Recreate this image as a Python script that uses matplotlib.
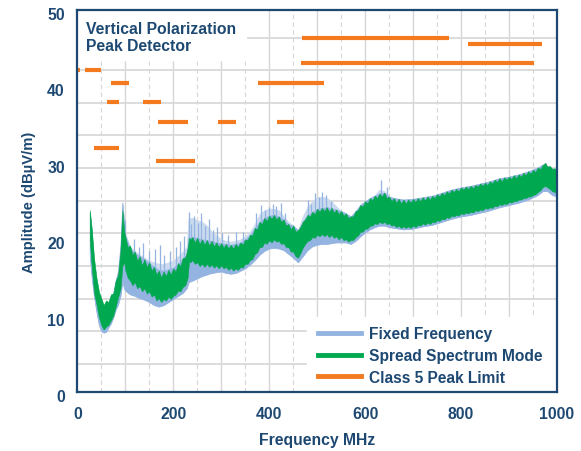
import matplotlib
matplotlib.use("Agg")
import matplotlib.pyplot as plt
from matplotlib.lines import Line2D
from matplotlib.patches import Rectangle
from matplotlib.transforms import ScaledTranslation

NAVY = "#1d4872"
BLUE = "#93b4e1"
BLUE_LIGHT = "#cbdaef"
GREEN = "#00a84f"
ORANGE = "#f47a20"
GRID = "#d6d6d6"

# --- Spread Spectrum Mode: envolvente inferior / superior (dBuV/m) ---
freq_ss = [26, 30, 35, 40, 45, 50, 55, 60, 65, 70, 75, 80, 85, 90, 94, 98,
           100, 105, 110, 115, 120, 125, 130, 135, 140, 145, 150, 155, 160, 165,
           170, 175, 180, 185, 190, 195, 200, 205, 210, 215, 220, 225, 230, 233,
           236, 240, 245, 250, 255, 260, 265, 270, 275, 280, 285, 290, 295, 300,
           305, 310, 315, 320, 325, 330, 335, 340, 345, 350, 355, 360, 365, 370,
           375, 380, 385, 390, 395, 400, 405, 410, 415, 420, 425, 430, 435, 440,
           445, 450, 455, 460, 465, 470, 475, 480, 485, 490, 495, 500, 505, 510,
           515, 520, 525, 530, 535, 540, 545, 550, 555, 560, 565, 570, 575, 580,
           585, 590, 595, 600, 605, 610, 615, 620, 625, 630, 635, 640, 645, 650,
           655, 660, 665, 670, 675, 680, 685, 690, 695, 700, 705, 710, 715, 720,
           725, 730, 735, 740, 745, 750, 755, 760, 765, 770, 775, 780, 785, 790,
           795, 800, 805, 810, 815, 820, 825, 830, 835, 840, 845, 850, 855, 860,
           865, 870, 875, 880, 885, 890, 895, 900, 905, 910, 915, 920, 925, 930,
           935, 940, 945, 950, 955, 960, 965, 970, 975, 980, 985, 990, 995, 1000]
ss_lo = [20.0, 16.5, 13.0, 11.5, 9.8, 8.8, 8.2, 8.6, 8.8, 9.4, 10.0, 11.2, 12.4, 13.5, 16.5, 17.0,
         16.0, 15.0, 14.6, 14.0, 14.4, 13.6, 13.9, 13.2, 13.6, 12.9, 13.2, 12.5, 12.8, 12.0,
         12.3, 11.8, 12.2, 12.0, 12.5, 12.2, 12.6, 12.8, 13.3, 13.2, 13.8, 14.0, 15.0, 17.2,
         17.0, 17.3, 16.8, 17.0, 16.5, 16.8, 16.4, 16.8, 16.4, 16.7, 16.3, 16.6, 16.2, 16.6,
         16.2, 16.4, 16.0, 16.3, 15.9, 16.2, 16.0, 16.4, 16.3, 16.8, 16.8, 17.3, 17.4, 18.1,
         18.3, 19.0, 19.0, 19.6, 19.4, 19.9, 19.6, 20.0, 19.7, 19.8, 19.4, 19.5, 19.0, 19.0,
         18.4, 18.4, 17.8, 17.6, 18.2, 18.9, 19.4, 19.8, 19.9, 20.3, 20.2, 20.6, 20.4, 20.7,
         20.4, 20.7, 20.3, 20.6, 20.2, 20.4, 20.0, 20.3, 19.9, 20.0, 19.7, 19.9, 19.9, 20.3,
         20.5, 21.0, 21.0, 21.4, 21.4, 21.8, 21.8, 22.1, 22.0, 22.3, 22.1, 22.3, 22.0, 22.1,
         21.8, 21.9, 21.6, 21.8, 21.5, 21.7, 21.5, 21.7, 21.5, 21.8, 21.6, 21.9, 21.8, 22.1,
         21.9, 22.2, 22.0, 22.3, 22.2, 22.5, 22.4, 22.7, 22.6, 22.9, 22.8, 23.1, 23.0, 23.2,
         23.1, 23.4, 23.3, 23.5, 23.4, 23.6, 23.5, 23.8, 23.7, 23.9, 23.8, 24.1, 24.0, 24.2,
         24.1, 24.4, 24.3, 24.6, 24.5, 24.7, 24.6, 24.9, 24.8, 25.0, 25.0, 25.2, 25.2, 25.4,
         25.4, 25.6, 25.6, 25.8, 25.9, 26.2, 26.4, 26.8, 27.0, 26.8, 26.6, 26.3, 26.2, 26.0]
ss_hi = [23.8, 21.5, 17.5, 15.0, 13.2, 12.3, 11.4, 12.0, 11.8, 12.8, 12.9, 14.6, 15.3, 18.5, 23.8, 21.0,
         20.4, 19.0, 19.2, 18.0, 18.4, 17.2, 17.8, 16.6, 17.4, 16.4, 17.0, 15.9, 16.4, 15.4,
         15.9, 15.0, 15.8, 15.2, 16.0, 15.4, 16.2, 15.8, 16.9, 16.5, 17.6, 17.6, 18.8, 20.2,
         20.0, 20.3, 19.6, 20.2, 19.4, 20.0, 19.3, 19.9, 19.2, 19.8, 19.1, 19.6, 19.0, 19.5,
         18.9, 19.4, 18.8, 19.3, 18.8, 19.4, 19.0, 19.6, 19.3, 20.0, 19.9, 20.6, 20.5, 21.5,
         21.3, 22.3, 22.0, 22.8, 22.4, 23.1, 22.7, 23.2, 22.6, 23.0, 22.3, 22.6, 21.8, 22.0,
         21.3, 21.8, 21.0, 21.2, 21.6, 22.3, 22.6, 23.2, 23.0, 23.6, 23.3, 24.0, 23.6, 24.1,
         23.7, 24.2, 23.6, 24.1, 23.5, 23.9, 23.3, 23.7, 23.1, 23.4, 22.8, 23.0, 23.0, 23.7,
         23.8, 24.5, 24.3, 25.0, 24.7, 25.4, 25.1, 25.7, 25.4, 26.0, 25.6, 26.1, 25.4, 25.6,
         25.0, 25.4, 24.8, 25.3, 24.7, 25.2, 24.7, 25.2, 24.8, 25.3, 24.9, 25.4, 25.0, 25.5,
         25.1, 25.6, 25.2, 25.7, 25.4, 25.9, 25.6, 26.1, 25.8, 26.3, 26.0, 26.5, 26.2, 26.6,
         26.3, 26.8, 26.5, 26.9, 26.6, 27.0, 26.7, 27.1, 26.9, 27.3, 27.0, 27.4, 27.1, 27.6,
         27.3, 27.8, 27.5, 28.0, 27.6, 28.1, 27.8, 28.2, 27.9, 28.4, 28.0, 28.5, 28.2, 28.7,
         28.4, 28.9, 28.6, 29.1, 28.8, 29.4, 29.2, 29.7, 30.0, 29.5, 29.6, 29.2, 29.3, 28.9]

# --- Fixed Frequency: envolvente inferior, superior y halo claro ---
freq_ff = [26, 30, 35, 40, 45, 50, 55, 60, 65, 70, 75, 80, 85, 90, 94, 98,
           100, 110, 120, 130, 140, 150, 160, 170, 180, 190, 200, 210, 220, 228,
           232, 240, 250, 260, 270, 280, 290, 300, 310, 320, 330, 340, 350, 360,
           370, 380, 390, 400, 410, 420, 430, 440, 450, 460, 470, 480, 490, 500,
           510, 520, 530, 540, 550, 560, 570, 580, 590, 600, 610, 620, 630, 640,
           650, 660, 680, 700, 720, 740, 760, 780, 800, 820, 840, 860, 880, 900,
           920, 940, 960, 970, 980, 990, 1000]
ff_lo = [18.0, 15.0, 12.5, 10.5, 8.8, 8.0, 7.8, 7.9, 8.5, 9.0, 9.8, 10.8, 11.5, 12.6, 14.5, 13.5,
         13.3, 12.8, 12.6, 12.3, 12.1, 11.8, 11.4, 11.2, 11.4, 11.8, 12.2, 12.6, 13.0, 13.6,
         14.4, 14.6, 14.9, 15.2, 15.4, 15.6, 15.7, 15.8, 15.6, 15.5, 15.6, 15.9, 16.2, 16.7,
         17.3, 18.0, 18.5, 18.8, 18.9, 18.8, 18.6, 18.1, 17.6, 17.0, 17.8, 18.6, 19.1, 19.3,
         19.4, 19.4, 19.5, 19.6, 19.6, 19.6, 19.4, 19.8, 20.4, 20.9, 21.3, 21.6, 21.8, 21.8,
         21.6, 21.5, 21.3, 21.4, 21.7, 21.9, 22.3, 22.7, 23.0, 23.2, 23.5, 23.8, 24.2, 24.5,
         24.8, 25.2, 25.8, 26.3, 26.3, 25.8, 25.6]
ff_hi = [23.5, 21.0, 16.5, 14.5, 12.6, 11.8, 11.0, 11.6, 11.8, 12.3, 13.0, 14.6, 15.8, 19.0, 24.8, 22.0,
         20.5, 18.8, 18.2, 17.8, 17.4, 16.9, 16.4, 16.0, 15.9, 16.1, 16.3, 16.8, 17.5, 18.0,
         20.3, 20.3, 20.2, 20.0, 19.9, 19.8, 19.6, 19.5, 19.4, 19.3, 19.4, 19.6, 20.0, 20.6,
         21.5, 22.3, 22.8, 23.1, 23.2, 23.0, 22.6, 22.0, 21.8, 21.2, 22.3, 23.2, 23.6, 24.0,
         24.1, 24.2, 24.1, 23.9, 23.7, 23.4, 23.0, 23.7, 24.5, 25.0, 25.4, 25.7, 26.0, 26.1,
         25.6, 25.4, 25.2, 25.3, 25.5, 25.7, 26.1, 26.5, 26.8, 27.0, 27.3, 27.6, 28.0, 28.2,
         28.5, 28.9, 29.4, 29.8, 29.6, 29.3, 28.9]
ff_halo = [23.5, 21.0, 16.5, 14.5, 12.6, 11.8, 11.0, 11.6, 11.8, 12.3, 13.0, 14.6, 16.0, 19.5, 24.8, 22.0,
           20.8, 19.0, 18.5, 18.0, 17.6, 17.2, 17.0, 16.8, 16.8, 17.0, 17.2, 17.8, 18.4, 19.0,
           22.8, 22.8, 22.5, 22.3, 21.8, 21.0, 20.5, 20.0, 19.8, 19.7, 19.8, 20.0, 20.4, 21.0,
           22.0, 23.3, 23.8, 24.0, 24.0, 23.8, 23.0, 22.3, 21.8, 21.2, 23.0, 24.3, 25.0, 25.5,
           25.6, 25.4, 25.0, 24.3, 23.7, 23.4, 23.0, 23.7, 24.5, 25.0, 25.4, 25.8, 26.5, 26.3,
           25.6, 25.4, 25.2, 25.3, 25.5, 25.7, 26.1, 26.5, 26.8, 27.0, 27.3, 27.6, 28.0, 28.2,
           28.5, 28.9, 29.4, 29.8, 29.6, 29.3, 28.9]

# picos aislados de Fixed Frequency (MHz, dBuV/m)
spike_f = [100, 118, 128, 137, 150, 163, 172, 181, 193, 205, 214, 222, 233, 238, 244,
           251, 258, 266, 274, 283, 292, 302, 315, 330, 345, 372, 384, 392, 400, 408,
           415, 424, 433, 480, 488, 495, 503, 511, 519, 528, 634, 645, 978]
spike_top = [22.5, 20.0, 19.0, 19.5, 18.5, 18.8, 19.2, 18.0, 18.5, 19.0, 19.8, 20.5, 23.6, 22.0, 23.0,
             22.2, 23.4, 21.8, 22.6, 21.2, 21.6, 20.8, 20.6, 20.9, 21.0, 23.5, 24.5, 23.8, 24.2, 24.6,
             24.3, 24.8, 23.5, 25.2, 24.6, 26.0, 25.6, 26.2, 25.8, 25.0, 27.7, 26.8, 30.0]

# --- Class 5 Peak Limit: tramos horizontales ---
lim_f0 = [0, 17, 61, 70, 137, 168, 294, 416, 35, 165, 376, 466, 468, 815]
lim_f1 = [5, 50, 87, 107, 174, 230, 330, 451, 87, 246, 514, 952, 774, 968]
lim_lv = [42.2, 42.2, 37.9, 40.5, 37.9, 35.3, 35.3, 35.3, 32.0, 30.3, 40.5, 43.0, 46.4, 45.5]

series_labels = ["Fixed Frequency", "Spread Spectrum Mode", "Class 5 Peak Limit"]
xticks = [0, 200, 400, 600, 800, 1000]
yticks = [0, 10, 20, 30, 40, 50]

plt.rcParams["font.family"] = ["Liberation Sans", "DejaVu Sans"]
plt.rcParams["font.weight"] = "bold"

fig = plt.figure(figsize=(5.81, 4.52), dpi=100)
ax = fig.add_axes([0.133, 0.13, 0.8257, 0.8457])
ax.set_xlim(0, 1000)
ax.set_ylim(0, 50)

# rejilla: vertical continua cada 100, discontinua a 50; horizontal propia
for v in range(100, 1000, 100):
    ax.axvline(v, color=GRID, lw=1.0, zorder=0)
for v in range(50, 1000, 100):
    ax.axvline(v, color=GRID, lw=0.8, ls=(0, (4, 3)), zorder=0)
for k in range(11):
    ax.axhline(3.7 + 4.27 * k, color=GRID, lw=1.2, zorder=0)
# zonas blancas del titulo y la leyenda
ax.add_patch(Rectangle((0, 43.4), 352, 7, color="white", zorder=1))
ax.add_patch(Rectangle((478, 0), 522, 9.9, color="white", zorder=1))

ax.fill_between(freq_ff, ff_lo, ff_halo, color=BLUE_LIGHT, lw=0.5, edgecolor=BLUE_LIGHT, zorder=2)
ax.fill_between(freq_ff, ff_lo, ff_hi, color=BLUE, lw=0.5, edgecolor=BLUE, zorder=2.2)
ax.vlines(spike_f, [t - 3.5 for t in spike_top], spike_top, color=BLUE, lw=0.9, zorder=2.3)
ax.fill_between(freq_ss, ss_lo, ss_hi, color=GREEN, lw=0.4, edgecolor=GREEN, zorder=3)
for a, b, lv in zip(lim_f0, lim_f1, lim_lv):
    ax.plot([a, b], [lv, lv], color=ORANGE, lw=3.0, solid_capstyle="butt", zorder=4)

for s in ax.spines.values():
    s.set_color(NAVY)
    s.set_linewidth(1.6)
    s.set_zorder(6)
ax.set_xticks(xticks)
ax.set_yticks(yticks)
ax.tick_params(length=0, labelsize=11.3, labelcolor=NAVY)
ax.tick_params(axis="x", pad=10)
ax.tick_params(axis="y", pad=9)
shift = ScaledTranslation(0, -3 / 100, fig.dpi_scale_trans)
for lbl in ax.get_yticklabels():
    lbl.set_transform(lbl.get_transform() + shift)
ax.set_xlabel("Frequency MHz", fontsize=11.3, color=NAVY, fontweight="bold", labelpad=8)
ax.set_ylabel("Amplitude (dB\u00b5V/m)", fontsize=10.6, color=NAVY, fontweight="bold", labelpad=8)

ax.text(0.018, 0.970, "Vertical Polarization\nPeak Detector", transform=ax.transAxes,
        ha="left", va="top", fontsize=11.3, color=NAVY, fontweight="bold",
        linespacing=1.15, zorder=7)

handles = [Line2D([], [], color=c, lw=3.5) for c in (BLUE, GREEN, ORANGE)]
leg = ax.legend(handles, series_labels, loc="upper left", bbox_to_anchor=(0.502, 0.172),
                frameon=False, fontsize=11.2, handlelength=2.75, handletextpad=0.55,
                labelspacing=0.42, borderpad=0, borderaxespad=0)
for t in leg.get_texts():
    t.set_color(NAVY)
    t.set_fontweight("bold")
leg.set_zorder(7)

fig.savefig("out.png", dpi=100)
